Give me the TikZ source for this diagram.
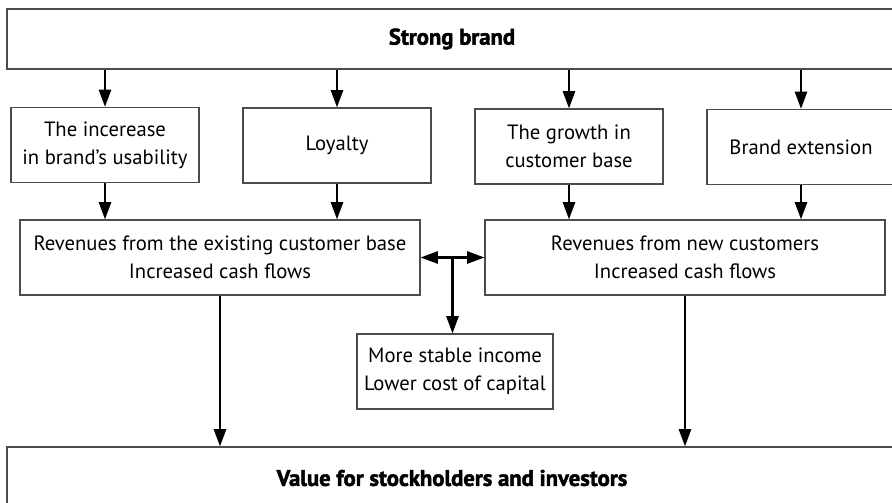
\documentclass[tikz,border=0pt]{standalone}
\usepackage{fontspec}
\setmainfont{PT Sans}
\newfontfamily\heavyfont[FakeBold=2]{PT Sans}
\usetikzlibrary{arrows.meta,calc}

\begin{document}
\begin{tikzpicture}[x=0.75pt,y=-0.75pt,
  box/.style = {draw=black!70, line width=0.8pt, inner sep=0pt, align=center,
                font=\fontsize{15.5}{21}\selectfont},
  small/.style = {box, minimum width=141pt, minimum height=56.25pt},
  wide/.style = {box, minimum width=300pt, minimum height=56.25pt},
  banner/.style = {box, minimum width=667.5pt, font=\fontsize{17}{21}\heavyfont\bfseries},
  arr/.style = {line width=2pt, -{Triangle[length=13pt,width=9pt]}}]
\useasboundingbox (0,0) rectangle (892,503);
\clip (0,0) rectangle (892,503);
\node[banner, minimum height=45pt] (strong) at (452,39) {Strong brand};
\node[small] (usab) at (105,145) {The incerease\\in brand’s usability};
\node[small] (loyal) at (337,145.5) {Loyalty};
\node[small] (growth) at (569,146.5) {The growth in\\customer base};
\node[small] (ext) at (801,147) {Brand extension};
\node[wide] (revold) at (220,257.5) {Revenues from the existing customer base\\Increased cash flows};
\node[wide] (revnew) at (685,257.5) {Revenues from new customers\\Increased cash flows};
\node[box, minimum width=147pt, minimum height=56.25pt] (stable) at (455,371.5) {More stable income\\Lower cost of capital};
\node[banner, minimum height=46.5pt] (value) at (452,478) {Value for stockholders and investors};
\coordinate (mid) at ($(revold.east)!0.5!(revnew.west)$);
\draw[arr] (strong.south -| usab) -- (usab);
\draw[arr] (strong.south -| loyal) -- (loyal);
\draw[arr] (strong.south -| growth) -- (growth);
\draw[arr] (strong.south -| ext) -- (ext);
\draw[arr] (usab) -- (usab |- revold.north);
\draw[arr] (loyal) -- (loyal |- revold.north);
\draw[arr] (growth) -- (growth |- revnew.north);
\draw[arr] (ext) -- (ext |- revnew.north);
\draw[arr, {Triangle[length=13pt,width=9pt]}-{Triangle[length=13pt,width=9pt]}] (revold.east) -- (revnew.west);
\draw[arr] (mid) -- (mid |- stable.north);
\draw[arr] (revold) -- (revold |- value.north);
\draw[arr] (revnew) -- (revnew |- value.north);
\end{tikzpicture}
\end{document}
